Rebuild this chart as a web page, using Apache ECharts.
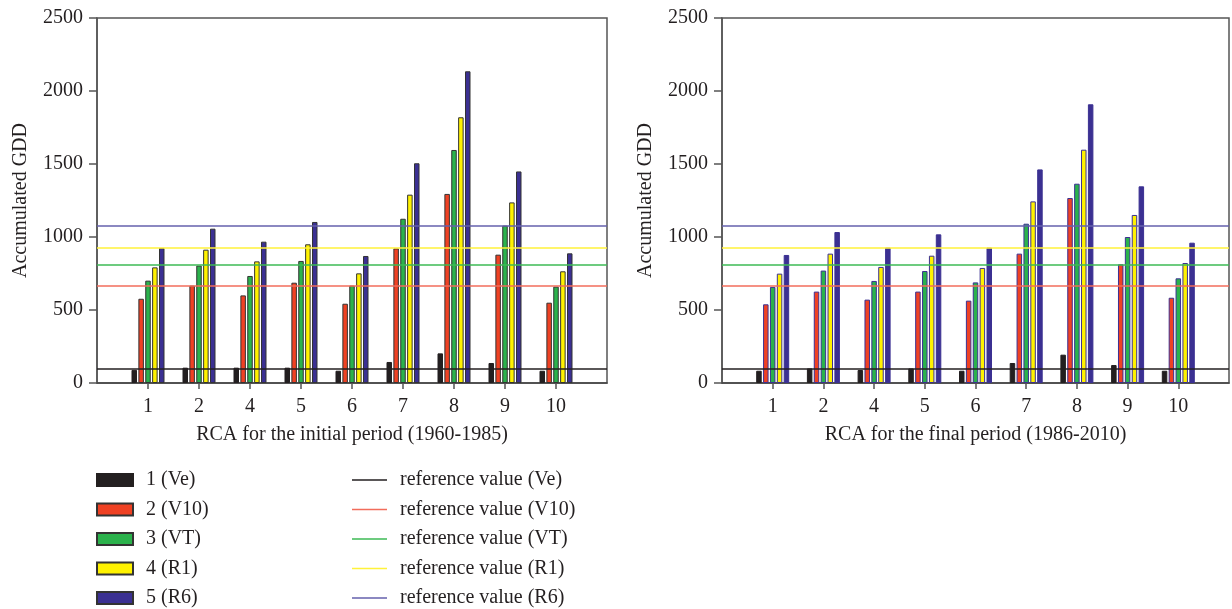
<!DOCTYPE html>
<html>
<head>
<meta charset="utf-8">
<script src="https://cdn.jsdelivr.net/npm/echarts@6/dist/echarts.min.js"></script>
<style>
  html, body { margin: 0; padding: 0; background: #fff; }
  #chart { width: 1232px; height: 609px; }
</style>
</head>
<body>
<div id="chart"></div>
<script>
// RCA categories (x axis)
var categories = ['1', '2', '4', '5', '6', '7', '8', '9', '10'];

// initial period (1960-1985)
var initVe  = [90, 105, 105, 105, 84, 144, 203, 137, 84];
var initV10 = [577, 667, 600, 687, 543, 922, 1295, 879, 550];
var initVT  = [701, 804, 733, 836, 667, 1125, 1596, 1078, 660];
var initR1  = [792, 913, 833, 950, 751, 1290, 1820, 1237, 765];
var initR6  = [925, 1057, 968, 1103, 870, 1505, 2135, 1449, 888];

// final period (1986-2010)
var finalVe  = [84, 100, 89, 100, 84, 137, 194, 123, 84];
var finalV10 = [539, 626, 571, 626, 564, 886, 1267, 813, 584];
var finalVT  = [658, 770, 699, 767, 689, 1091, 1365, 1000, 717];
var finalR1  = [749, 886, 795, 872, 788, 1244, 1598, 1151, 822];
var finalR6  = [877, 1034, 927, 1018, 927, 1463, 1909, 1347, 961];

// reference values
var refValues = [100, 668, 813, 926, 1077];

var barNames = ['1 (Ve)', '2 (V10)', '3 (VT)', '4 (R1)', '5 (R6)'];
var refNames = ['reference value (Ve)', 'reference value (V10)', 'reference value (VT)',
                'reference value (R1)', 'reference value (R6)'];
var yTicks = [0, 500, 1000, 1500, 2000, 2500];

var barColors = ['#231f20', '#ef4123', '#2bb24c', '#fff200', '#3b3092'];
var refColors = ['#231f20', '#f26d5b', '#3dba55', '#fff23a', '#6460ad'];

var FONT = '"Liberation Serif", "DejaVu Serif", serif';
var TXT = '#231f20';

// padded so the first/last categories sit one step in from the box
var axisCats = [''].concat(categories, ['']);

var chart = echarts.init(document.getElementById('chart'));

var makeX = function (idx, name) {
    return {
        type: 'category',
        gridIndex: idx,
        data: axisCats,
        boundaryGap: false,
        name: name,
        nameLocation: 'middle',
        nameGap: 42,
        nameTextStyle: {fontFamily: FONT, fontSize: 20, color: TXT},
        axisLine: {lineStyle: {color: '#444', width: 1.5}},
        axisTick: {
            length: 6,
            lineStyle: {color: '#555', width: 1.5},
            interval: function (i, v) { return v !== ''; }
        },
        axisLabel: {fontFamily: FONT, fontSize: 20, color: TXT, margin: 14, interval: 0},
        splitLine: {show: false}
    };
};

var makeY = function (idx) {
    return {
        type: 'value',
        gridIndex: idx,
        min: yTicks[0],
        max: yTicks[yTicks.length - 1],
        interval: yTicks[1] - yTicks[0],
        name: 'Accumulated GDD',
        nameLocation: 'middle',
        nameRotate: 90,
        nameGap: 66,
        nameTextStyle: {fontFamily: FONT, fontSize: 20, color: TXT},
        axisLine: {show: true, lineStyle: {color: '#555', width: 1.5}},
        axisTick: {show: true, length: 8, lineStyle: {color: '#555', width: 1.5}},
        axisLabel: {
            fontFamily: FONT, fontSize: 20, color: TXT, margin: 14,
            formatter: function (v) { return String(v); }
        },
        splitLine: {show: false}
    };
};

var series = [];
var addPanel = function (idx, dataSets, borderColor) {
    for (var i = 0; i < dataSets.length; i++) {
        var vals = dataSets[i];
        series.push({
            name: barNames[i],
            type: 'bar',
            xAxisIndex: idx,
            yAxisIndex: idx,
            barWidth: 5.5,
            barGap: '25%',
            itemStyle: {
                color: barColors[i],
                borderColor: i === 0 ? '#231f20' : borderColor,
                borderWidth: 1
            },
            data: vals.map(function (v, k) { return [k + 1, v]; })
        });
    }
    for (var j = 0; j < refValues.length; j++) {
        series.push({
            name: refNames[j],
            type: 'line',
            xAxisIndex: idx,
            yAxisIndex: idx,
            symbol: 'none',
            lineStyle: {color: refColors[j], width: 1.5},
            itemStyle: {color: refColors[j]},
            data: [],
            markLine: {
                silent: true,
                symbol: 'none',
                label: {show: false},
                lineStyle: {color: refColors[j], width: 1.5, type: 'solid'},
                data: [{yAxis: refValues[j]}]
            }
        });
    }
};

addPanel(0, [initVe, initV10, initVT, initR1, initR6], '#333');
addPanel(1, [finalVe, finalV10, finalVT, finalR1, finalR6], '#3b3092');

var legendText = {fontFamily: FONT, fontSize: 20, color: TXT, padding: [0, 0, 0, 8]};

chart.setOption({
    animation: false,
    backgroundColor: '#fff',
    grid: [
        {left: 97, top: 18, width: 510, height: 365, show: true, borderColor: '#555', borderWidth: 1.5},
        {left: 722, top: 18, width: 509, height: 365, show: true, borderColor: '#555', borderWidth: 1.5}
    ],
    xAxis: [
        makeX(0, 'RCA for the initial period (1960-1985)'),
        makeX(1, 'RCA for the final period (1986-2010)')
    ],
    yAxis: [makeY(0), makeY(1)],
    legend: [
        {
            data: barNames,
            orient: 'vertical',
            left: 96,
            top: 470,
            padding: 0,
            height: 139,
            icon: 'rect',
            itemWidth: 36,
            itemHeight: 12,
            itemGap: 9.5,
            textStyle: legendText
        },
        {
            data: refNames,
            orient: 'vertical',
            left: 352,
            top: 470,
            padding: 0,
            height: 139,
            icon: 'rect',
            itemWidth: 35,
            itemHeight: 1.5,
            itemGap: 9.5,
            textStyle: legendText
        }
    ],
    series: series
});
</script>
</body>
</html>
